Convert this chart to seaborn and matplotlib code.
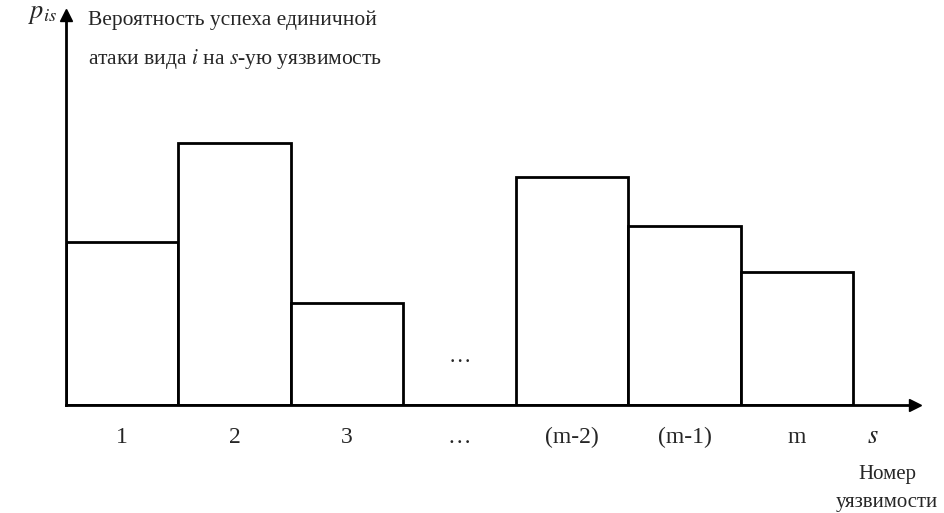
"""Bar diagram: success probability of a single attack per vulnerability."""

import matplotlib

matplotlib.use("Agg")
import seaborn as sns
from matplotlib import pyplot as plt

# Vulnerability labels along the s axis ("…" is the skipped gap)
CATEGORIES = ["1", "2", "3", "…", "(m-2)", "(m-1)", "m"]
# Bar heights in arbitrary units
P_IS = [163, 262, 102, 0, 228, 179, 133]

Y_MAX = 390
X_MAX = 7.05

sns.set_style("white")
plt.rcParams["font.family"] = ["Liberation Serif", "DejaVu Serif"]
plt.rcParams["mathtext.fontset"] = "stix"

W, H = 944, 513
fig = plt.figure(figsize=(W / 100, H / 100), dpi=100)
# origin of the axes at pixel (66, 405), y arrow tip at 15, x arrow tip at 915
ax = fig.add_axes((66 / W, (H - 405) / H, (915 - 66) / W, (405 - 15) / H))

sns.barplot(
    x=CATEGORIES,
    y=P_IS,
    order=CATEGORIES,
    width=1.0,
    color="white",
    saturation=1,
    edgecolor="black",
    linewidth=2.0,
    ax=ax,
)

ax.set_xlim(-0.5, X_MAX)
ax.set_ylim(0, Y_MAX)
ax.set_yticks([])
ax.tick_params(axis="x", length=0, pad=16, labelsize=17)
for spine in ("top", "right"):
    ax.spines[spine].set_visible(False)
for spine in ("left", "bottom"):
    ax.spines[spine].set_linewidth(2.0)
    ax.spines[spine].set_color("black")

# arrow heads on the axes
ax.plot(1, 0, ">k", ms=8, transform=ax.transAxes, clip_on=False)
ax.plot(0, 1, "^k", ms=8, transform=ax.transAxes, clip_on=False)

# gap marker inside the plot
ax.text(3, 48, "…", ha="center", va="center", fontsize=16)

# axis captions
fig.text(28 / W, 1 - 15 / H, r"$p_{is}$", ha="left", va="center", fontsize=19)
fig.text(88 / W, 1 - 20 / H, "Вероятность успеха единичной",
         ha="left", va="center", fontsize=15.5)
fig.text(88 / W, 1 - 59 / H, r"атаки вида $i$ на $s$-ую уязвимость",
         ha="left", va="center", fontsize=15.5)
fig.text(873 / W, 1 - 437 / H, r"$s$", ha="center", va="center", fontsize=19)
fig.text(887 / W, 1 - 474 / H, "Номер", ha="center", va="center", fontsize=15)
fig.text(887 / W, 1 - 502 / H, "уязвимости", ha="center", va="center", fontsize=15)

ax.set_xlabel("")
ax.set_ylabel("")

fig.savefig("out.png", dpi=100)
